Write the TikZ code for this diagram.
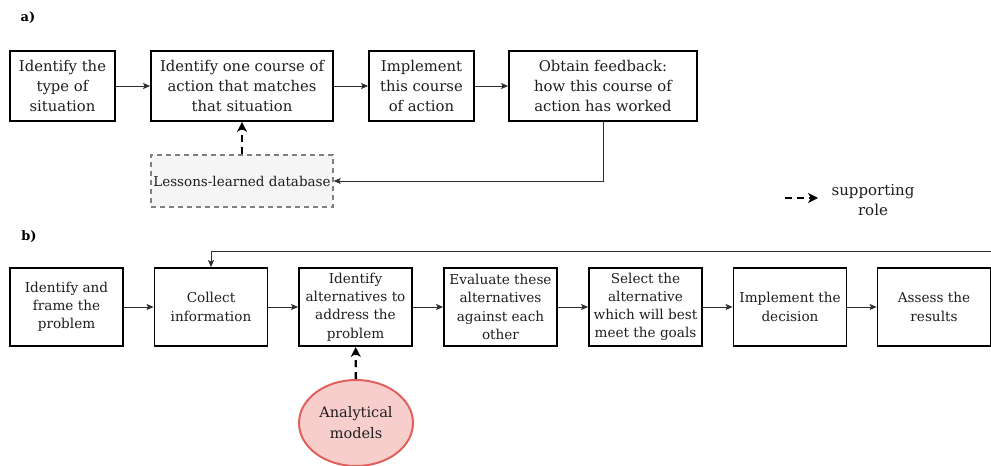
\documentclass[tikz,border=0pt]{standalone}
\usepackage{fontspec}
\setmainfont{DejaVu Serif}
\usetikzlibrary{arrows.meta,shapes.geometric}
\definecolor{flowline}{RGB}{45, 45, 45}
\definecolor{dbfill}{RGB}{245, 245, 245}
\definecolor{dbline}{RGB}{128, 128, 128}
\definecolor{modelfill}{RGB}{248, 206, 204}
\definecolor{modelline}{RGB}{226, 96, 92}
\definecolor{labeltext}{RGB}{30, 30, 30}

\tikzset{
	stepbox/.style={draw=black, line width=1.8pt, inner sep=0pt, align=center, text=labeltext},
	upperbox/.style={stepbox, minimum height=70pt, font=\fontsize{14.8}{20}\selectfont},
	lowerbox/.style={stepbox, minimum width=113pt, minimum height=78pt, font=\fontsize{13.6}{18.2}\selectfont},
	lessonsbox/.style={draw=dbline, fill=dbfill, line width=1.4pt, dash pattern=on 5pt off 4pt, minimum width=182pt, minimum height=52pt, inner sep=0pt, text=labeltext, font=\fontsize{13.5}{16}\selectfont},
	modelnode/.style={ellipse, draw=modelline, fill=modelfill, line width=2pt, minimum width=114pt, minimum height=86pt, inner sep=0pt, align=center, text=labeltext, font=\fontsize{14.5}{21}\selectfont},
	flow/.style={draw=flowline, line width=0.9pt, -{Stealth[length=7pt, width=6pt, inset=1.5pt]}},
	support/.style={draw=black, line width=2.4pt, dash pattern=on 7pt off 5pt, -{Stealth[length=10pt, width=10pt, inset=3pt]}},
	panel/.style={font=\bfseries\fontsize{13}{16}\selectfont}
}

\begin{document}
\begin{tikzpicture}[x=1pt, y=-1pt]
			\useasboundingbox (0, 0) rectangle (991, 466);

			\node[panel] (panela) at (28, 18) {a)};
			\node[panel] (panelb) at (29, 237) {b)};

			\node[upperbox, minimum width=105pt] (situation) at (62.5, 86) {Identify the\\type of\\situation};
			\node[upperbox, minimum width=182pt] (course) at (242, 86) {Identify one course of\\action that matches\\that situation};
			\node[upperbox, minimum width=105pt] (implement) at (421.5, 86) {Implement\\this course\\of action};
			\node[upperbox, minimum width=188pt] (feedback) at (603, 86) {Obtain feedback:\\how this course of\\action has worked};
			\node[lessonsbox] (lessons) at (242, 181) {Lessons-learned database};

			\draw[flow] (situation) -- (course);
			\draw[flow] (course) -- (implement);
			\draw[flow] (implement) -- (feedback);
			\draw[flow] (feedback.south) |- (lessons.east);
			\draw[support] (lessons) -- (course);

			\coordinate (keystart) at (785, 198);
			\coordinate (keyend) at (818, 198);
			\draw[support] (keystart) -- (keyend);
			\node[align=center, text=labeltext, font=\fontsize{15}{20}\selectfont] (keytext) at (873, 200) {supporting\\role};

			\node[lowerbox] (frame) at (66.5, 307) {Identify and\\frame the\\problem};
			\node[lowerbox] (collect) at (211, 307) {Collect\\information};
			\node[lowerbox] (alternatives) at (355.5, 307) {Identify\\alternatives to\\address the\\problem};
			\node[lowerbox] (evaluate) at (500.5, 307) {Evaluate these\\alternatives\\against each\\other};
			\node[lowerbox] (select) at (645.5, 307) {Select the\\alternative\\which will best\\meet the goals};
			\node[lowerbox] (decision) at (790, 307) {Implement the\\decision};
			\node[lowerbox] (assess) at (934, 307) {Assess the\\results};
			\node[modelnode] (models) at (356, 423) {Analytical\\models};

			\draw[flow] (frame) -- (collect);
			\draw[flow] (collect) -- (alternatives);
			\draw[flow] (alternatives) -- (evaluate);
			\draw[flow] (evaluate) -- (select);
			\draw[flow] (select) -- (decision);
			\draw[flow] (decision) -- (assess);
			\coordinate (loopstart) at (991, 251);
			\draw[flow] (loopstart) -| (collect.north);
			\draw[support] (models) -- (alternatives);
		\end{tikzpicture}
\end{document}
